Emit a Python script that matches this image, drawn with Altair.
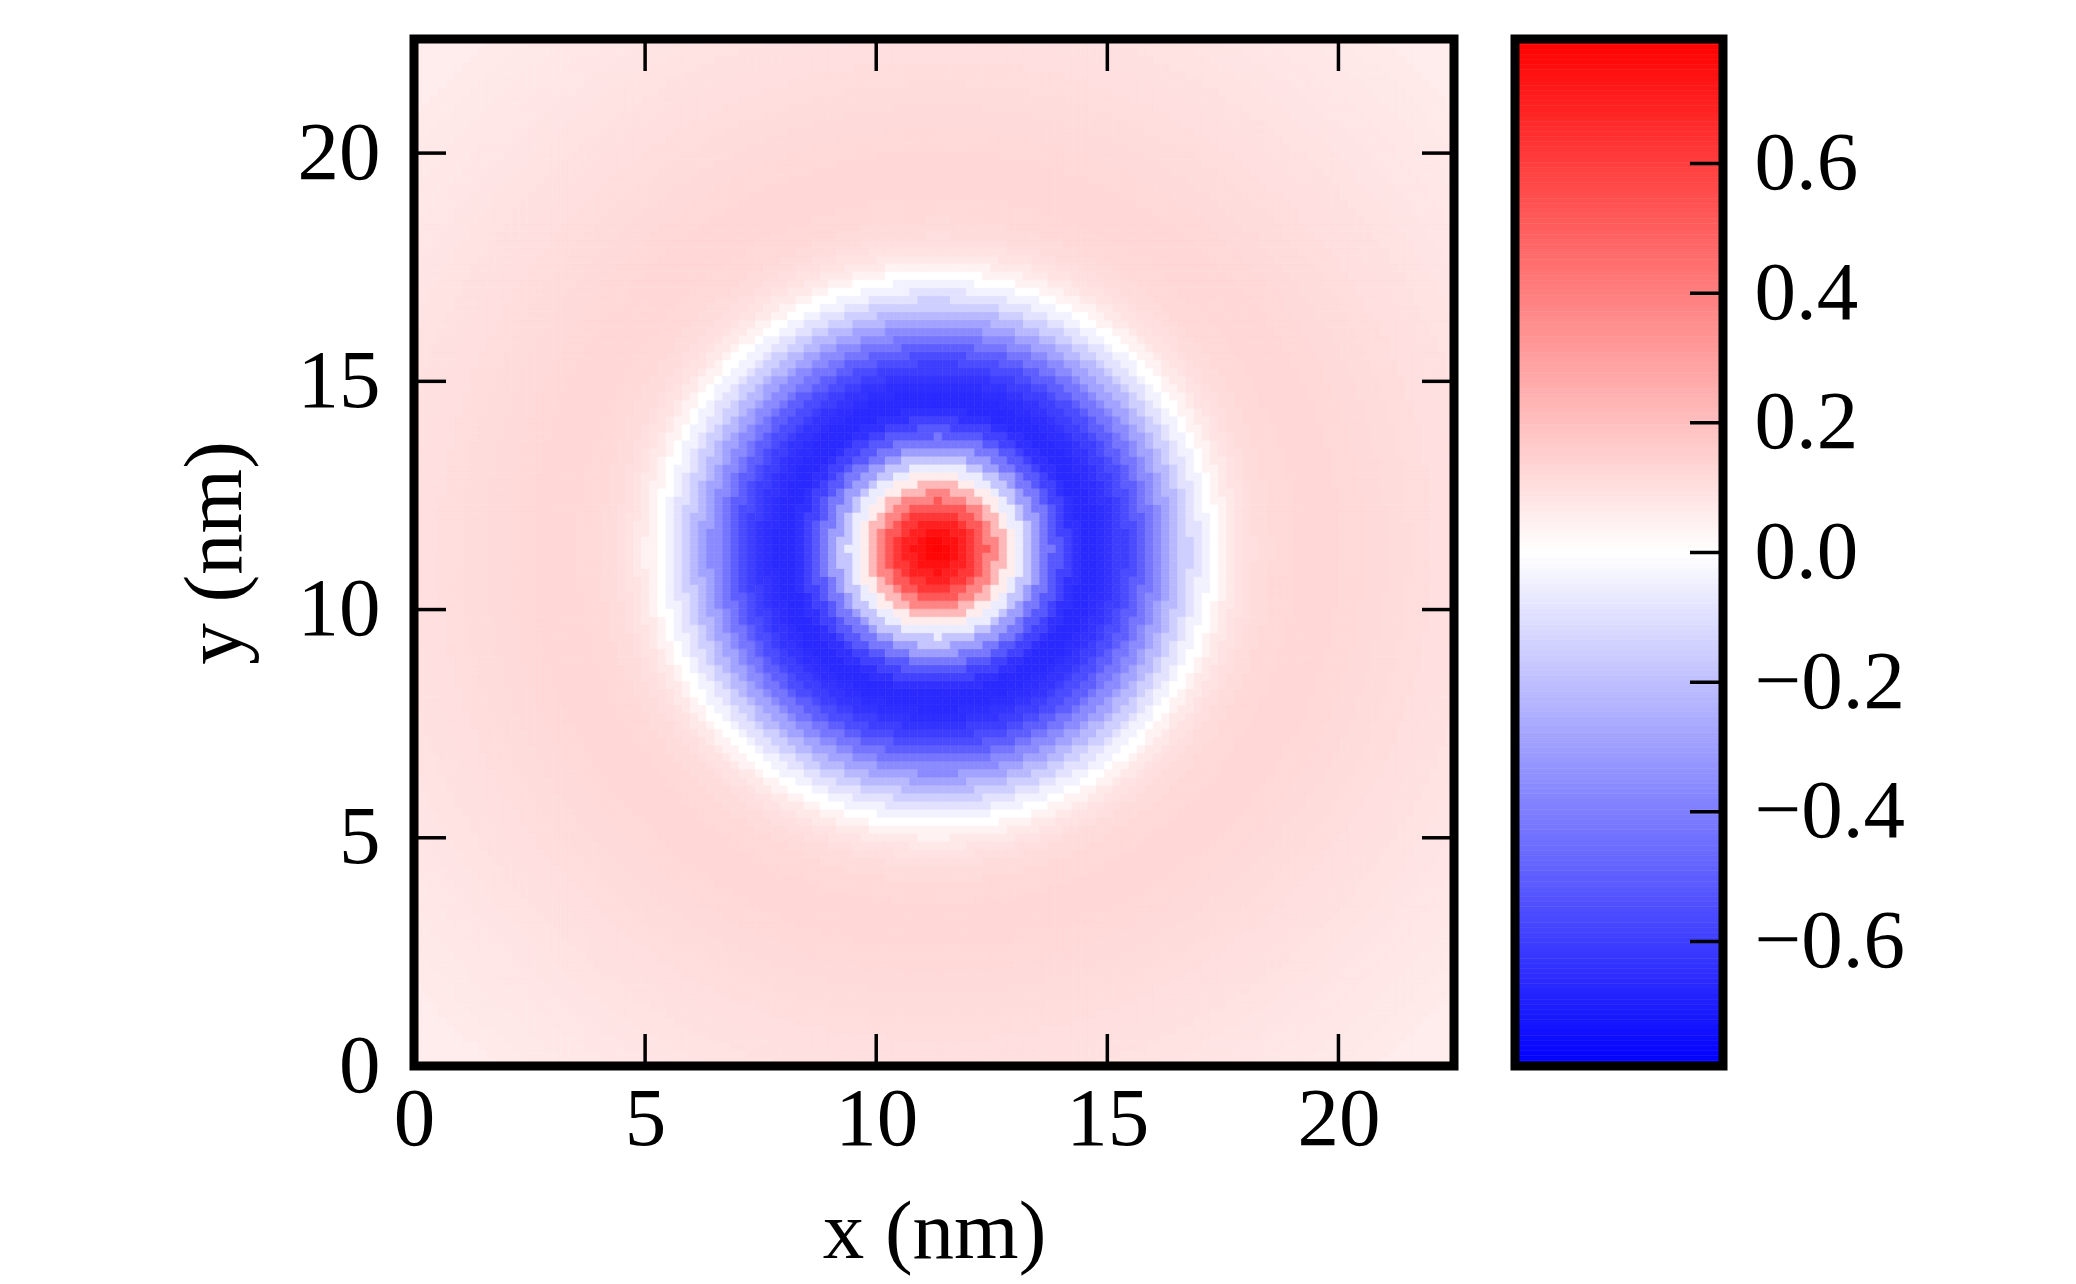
import numpy as np
import pandas as pd
import altair as alt

alt.data_transformers.disable_max_rows()

# Radial profile of the field: distance from the centre (nm) -> value
radius_nm = [0.0, 0.2, 0.4, 0.6, 0.8, 1.0, 1.2, 1.4, 1.6, 1.8, 2.0, 2.2, 2.4, 2.6, 2.8,
             3.0, 3.2, 3.4, 3.6, 3.8, 4.0, 4.2, 4.4, 4.6, 4.8, 5.0, 5.2, 5.4, 5.6, 5.8,
             6.0, 6.2, 6.4, 6.6, 6.8, 7.0, 7.5, 8.0, 8.5, 9.0, 9.5, 10.0, 10.5, 11.0,
             11.5, 12.0, 12.5, 13.0, 13.5, 14.0, 14.5, 15.0, 15.5, 16.0]
profile_val = [0.78, 0.77, 0.74, 0.69, 0.62, 0.52, 0.38, 0.22, 0.06, -0.06, -0.18, -0.30,
               -0.42, -0.52, -0.59, -0.64, -0.66, -0.66, -0.65, -0.63, -0.60, -0.56, -0.50,
               -0.43, -0.36, -0.29, -0.22, -0.15, -0.09, -0.04, 0.0, 0.04, 0.07, 0.09,
               0.10, 0.11, 0.12, 0.125, 0.125, 0.12, 0.115, 0.11, 0.105, 0.10, 0.095, 0.09,
               0.085, 0.08, 0.075, 0.07, 0.065, 0.06, 0.055, 0.05]
centre_x = 11.3
centre_y = 11.3
axis_max = 22.5
n_cells = 128
x_ticks = [0, 5, 10, 15, 20]
y_ticks = [0, 5, 10, 15, 20]
cbar_ticks = [-0.6, -0.4, -0.2, 0.0, 0.2, 0.4, 0.6]
cbar_lim = 0.792

# grid of cells, each taking the profile value of the nearest listed radius
step = axis_max / n_cells
edges = np.arange(n_cells) * step
X0, Y0 = np.meshgrid(edges, edges)
R = np.hypot(X0 + step / 2 - centre_x, Y0 + step / 2 - centre_y)
idx = np.abs(R[..., None] - np.array(radius_nm)).argmin(-1)
V = np.array(profile_val)[idx]
grid = pd.DataFrame({
    "x0": np.round(X0.ravel(), 4), "x1": np.round(X0.ravel() + step, 4),
    "y0": np.round(Y0.ravel(), 4), "y1": np.round(Y0.ravel() + step, 4),
    "v": V.ravel(),
})

cb_edges = np.linspace(-cbar_lim, cbar_lim, 201)
cbdf = pd.DataFrame({"lo": cb_edges[:-1], "hi": cb_edges[1:],
                     "mid": (cb_edges[:-1] + cb_edges[1:]) / 2})

W, H, CW = 1040, 1027, 208
TL = 32
FONT = "Liberation Serif"
FS = 83
FRAME = 9

cscale = alt.Scale(domain=[-cbar_lim, 0, cbar_lim], range=["#0000ff", "#ffffff", "#ff0000"],
                   interpolate="rgb", clamp=True)
xscale = alt.Scale(domain=[0, axis_max], nice=False, zero=False)
yscale = alt.Scale(domain=[0, axis_max], nice=False, zero=False)
cscale_y = alt.Scale(domain=[-cbar_lim, cbar_lim], nice=False, zero=False)

x_axis = alt.Axis(values=x_ticks, title="x (nm)", labelPadding=12, titlePadding=30, format="d")
y_axis = alt.Axis(values=y_ticks, title="y (nm)", labelPadding=34, titlePadding=40, format="d")
c_axis = alt.Axis(values=cbar_ticks, title=None, orient="right", format=".1f",
                  labelPadding=31, labelAlign="left")

heat = alt.Chart(grid).mark_rect(strokeWidth=0.6).encode(
    x=alt.X("x0:Q", scale=xscale, axis=x_axis),
    x2="x1:Q",
    y=alt.Y("y0:Q", scale=yscale, axis=y_axis),
    y2="y1:Q",
    color=alt.Color("v:Q", scale=cscale, legend=None),
    stroke=alt.Stroke("v:Q", scale=cscale, legend=None),
)

xt = pd.DataFrame({"t": x_ticks})
yt = pd.DataFrame({"t": y_ticks})
one = pd.DataFrame({"k": [0]})
rule = dict(color="black", strokeWidth=3.5)
tick_b = alt.Chart(xt).mark_rule(**rule).encode(
    x=alt.X("t:Q", scale=xscale, axis=x_axis), y=alt.value(H), y2=alt.value(H - TL))
tick_t = alt.Chart(xt).mark_rule(**rule).encode(
    x=alt.X("t:Q", scale=xscale, axis=x_axis), y=alt.value(0), y2=alt.value(TL))
tick_l = alt.Chart(yt).mark_rule(**rule).encode(
    y=alt.Y("t:Q", scale=yscale, axis=y_axis), x=alt.value(0), x2=alt.value(TL))
tick_r = alt.Chart(yt).mark_rule(**rule).encode(
    y=alt.Y("t:Q", scale=yscale, axis=y_axis), x=alt.value(W), x2=alt.value(W - TL))
frame_main = alt.Chart(one).mark_rect(filled=False, stroke="black", strokeWidth=FRAME).encode(
    x=alt.value(0), x2=alt.value(W), y=alt.value(0), y2=alt.value(H))

main = alt.layer(heat, tick_b, tick_t, tick_l, tick_r, frame_main).properties(width=W, height=H)

cbar = alt.Chart(cbdf).mark_rect(strokeWidth=0.6).encode(
    y=alt.Y("lo:Q", scale=cscale_y, axis=c_axis),
    y2="hi:Q",
    x=alt.value(0), x2=alt.value(CW),
    color=alt.Color("mid:Q", scale=cscale, legend=None),
    stroke=alt.Stroke("mid:Q", scale=cscale, legend=None),
)
ct = pd.DataFrame({"t": cbar_ticks})
cticks = alt.Chart(ct).mark_rule(**rule).encode(
    y=alt.Y("t:Q", scale=cscale_y, axis=c_axis), x=alt.value(CW), x2=alt.value(CW - 33))
frame_cb = alt.Chart(one).mark_rect(filled=False, stroke="black", strokeWidth=FRAME).encode(
    x=alt.value(0), x2=alt.value(CW), y=alt.value(0), y2=alt.value(H))
cb = alt.layer(cbar, cticks, frame_cb).properties(width=CW, height=H)

chart = alt.hconcat(main, cb, spacing=51).properties(
    padding={"left": 166, "top": 26, "right": 5, "bottom": 5},
    background="white",
).configure_view(
    stroke=None,
).configure_axis(
    labelFont=FONT, labelFontSize=FS, titleFont=FONT, titleFontSize=FS,
    titleFontWeight="normal", labelColor="black", titleColor="black",
    ticks=False, domain=False, grid=False, labelFlush=False, labelOverlap=False,
).configure_concat(spacing=51)

chart.save("out.html", embed_options={"renderer": "svg", "actions": False})
